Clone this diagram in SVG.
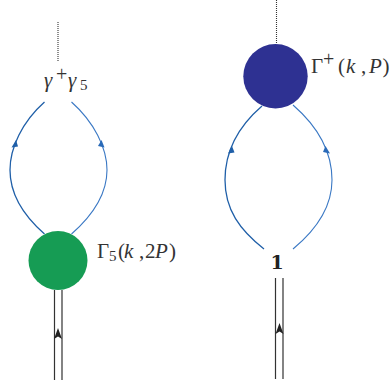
<svg xmlns="http://www.w3.org/2000/svg" width="390" height="387" viewBox="0 0 390 387">
<style>
.t{font-family:"Liberation Serif",serif;font-size:21px;fill:#333}
.i{font-style:italic}
.s{font-size:15px}
.p{font-size:20px}
.dot{stroke:#333;stroke-width:1.1;stroke-dasharray:1 1;fill:none}
.a{stroke:#1f5fa8;stroke-width:1.3;fill:none}
.b{stroke:#3a78c4;stroke-width:1.1;fill:none}
.d{stroke:#333;stroke-width:1.2;fill:none}
.ha{fill:#1f5fa8}
.hb{fill:#2a6ab8}
.hk{fill:#222}
</style>
<rect width="390" height="387" fill="#fff"/>
<g id="connectors">
<path class="dot" d="M58 22V61"/>
<path class="a" d="M44.500 102C22 122 10 148 10 170C10 194 24 216 44.500 234"/>
<path class="b" d="M71.500 102C94 122 107 148 107 170C107 194 92 216 71.500 234"/>
<path class="ha" d="M16 140L11.500 147.500L18 146.500Z"/>
<path class="hb" d="M101.500 140L98 146L104.500 147.500Z"/>
<path class="d" d="M54.500 290V380M62 290V380"/>
<path class="hk" d="M58 328L62 339L58 336.500L54 339Z"/>
<path class="dot" d="M276.500 0V44"/>
<path class="a" d="M262 106C240 125 225 150 225 180C225 210 240 230 264 249"/>
<path class="b" d="M293 105C316 125 332 150 332 180C332 208 316 230 293 249"/>
<path class="ha" d="M232 146L228 153.500L234.500 152.500Z"/>
<path class="hb" d="M325.500 146L323 152L330 153.500Z"/>
<path class="d" d="M275.500 278V379M283 278V379"/>
<path class="hk" d="M279.500 323L283.500 334L279.500 331.500L275.500 334Z"/>
</g>
<g id="node-gamma">
<text class="t" y="87"><tspan class="i" x="44">γ</tspan><tspan class="p" x="56" y="81">+</tspan><tspan class="i" x="68" y="87">γ</tspan><tspan class="s" x="80" y="90">5</tspan></text>
</g>
<g id="node-green">
<circle cx="58" cy="260.500" r="29.500" fill="#169c54"/>
<text class="t" y="258"><tspan x="97">Γ</tspan><tspan class="s" x="109" y="261">5</tspan><tspan x="118" y="258">(</tspan><tspan class="i" x="124">k</tspan><tspan x="139">,</tspan><tspan x="145">2</tspan><tspan class="i" x="155">P</tspan><tspan x="169">)</tspan></text>
</g>
<g id="node-blue">
<circle cx="275.500" cy="76.300" r="32.200" fill="#2e3192"/>
<text class="t" y="73"><tspan x="311">Γ</tspan><tspan class="p" x="323" y="66">+</tspan><tspan x="338" y="73">(</tspan><tspan class="i" x="346">k</tspan><tspan x="361">,</tspan><tspan class="i" x="369">P</tspan><tspan x="382.500">)</tspan></text>
</g>
<g id="node-one">
<text x="277" y="269" text-anchor="middle" font-family="DejaVu Serif, serif" font-size="19" font-weight="bold" fill="#222">1</text>
</g>
</svg>
